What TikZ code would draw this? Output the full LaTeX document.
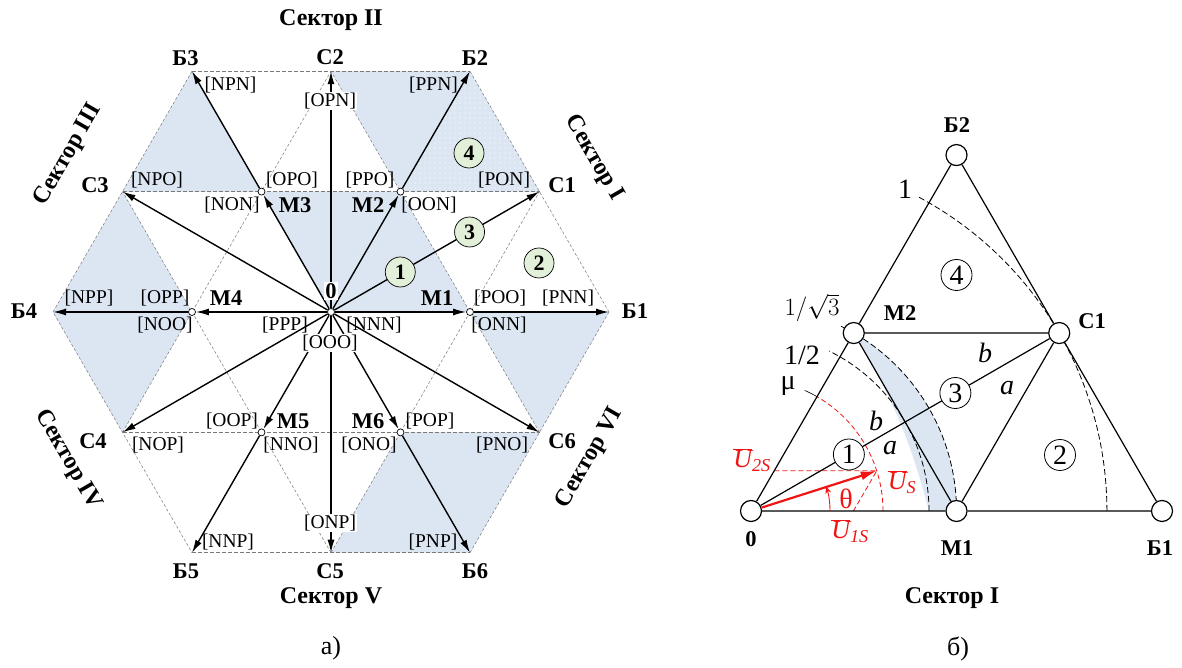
\documentclass[tikz,border=0pt]{standalone}
\usepackage{fontspec}
\setmainfont{Liberation Serif}
\usetikzlibrary{arrows.meta,patterns.meta,calc}
\definecolor{lblue}{RGB}{220,230,242}
\definecolor{cgreen}{RGB}{226,239,217}
\definecolor{gridc}{RGB}{120,120,120}
\definecolor{ured}{RGB}{240,20,20}
\begin{document}
\begin{tikzpicture}[x=1pt,y=1pt,
 arr/.style={line width=1.4pt,-{Latex[length=13pt,width=7pt]}},
 gthin/.style={draw=gridc,line width=0.5pt,dash pattern=on 3pt off 2pt},
 gmed/.style={draw=gridc,line width=0.9pt,dash pattern=on 4pt off 2pt},
 mdot/.style={circle,draw,fill=white,inner sep=0pt,minimum size=7pt,line width=0.7pt},
 lbl/.style={font=\fontsize{19.5}{19.5}\selectfont,inner sep=1pt},
 wlbl/.style={lbl,fill=white},
 blbl/.style={font=\fontsize{22.5}{22.5}\selectfont\bfseries,inner sep=1pt},
 sect/.style={font=\fontsize{24}{24}\selectfont\bfseries,inner sep=0pt},
 num/.style={circle,draw,fill=cgreen,line width=0.7pt,minimum size=30pt,inner sep=0pt,font=\fontsize{22}{22}\selectfont\bfseries},
 rnum/.style={circle,draw,fill=white,line width=0.8pt,minimum size=31pt,inner sep=0pt,font=\fontsize{28}{28}\selectfont},
 vdot/.style={circle,draw,fill=white,line width=1.2pt,minimum size=21pt,inner sep=0pt},
 rline/.style={line width=1.2pt},
 bdash/.style={line width=0.8pt,dash pattern=on 6pt off 3pt},
 rdash/.style={ured,line width=0.8pt,dash pattern=on 5pt off 3pt},
 big/.style={font=\fontsize{28}{28}\selectfont,inner sep=0pt},
 rlbl/.style={ured,font=\fontsize{26}{26}\selectfont,inner sep=0pt}
]
\useasboundingbox (0,0) rectangle (1182,668);
\fill[white] (0,0) rectangle (1182,668);

% ---------------- left figure ----------------
\coordinate (O) at (331,356);
\foreach \k/\a in {1/0,2/60,3/120,4/180,5/240,6/300}{
 \coordinate (B\k) at ($(O)+(\a:278pt)$);
 \coordinate (C\k) at ($(O)+(\a+30:240.75pt)$);
 \coordinate (Q\k) at ($(O)+(\a:139pt)$);
}
% shading
\fill[lblue] (C2) -- (B2) -- (C1) -- (Q2) -- cycle;
\fill[pattern={Dots[distance=5pt,radius=0.6pt]},pattern color=white] (Q2) -- (B2) -- (C1) -- cycle;
\fill[lblue] (O) -- (Q1) -- (Q2) -- (Q3) -- cycle;
\fill[lblue] (B3) -- (C3) -- (Q3) -- cycle;
\fill[lblue] (C3) -- (B4) -- (C4) -- (Q4) -- cycle;
\fill[lblue] (Q1) -- (B1) -- (C6) -- cycle;
\fill[lblue] (Q6) -- (C6) -- (B6) -- (C5) -- cycle;
% grid
\draw[gmed] (B3) -- (B2) (C3) -- (C1) (C4) -- (C6) (B5) -- (B6);
\draw[gthin] (B1) -- (B2) (B3) -- (B4) -- (B5) (B6) -- (B1)
  (C4) -- (C2) (C5) -- (C1) (C6) -- (C2) (C5) -- (C3);
% nodes
\node[mdot] (On) at (O) {};
\foreach \k in {1,...,6}{ \node[mdot] (M\k) at (Q\k) {}; }
% arrows
\foreach \k in {1,...,6}{
 \draw[arr] (On) -- (M\k);
 \draw[arr] (M\k) -- (B\k);
 \draw[arr] (On) -- (C\k);
}
\node[num] (n1) at ($(O)+(30:80pt)$) {1};
\node[num] (n3) at ($(O)+(30:160pt)$) {3};
\node[num] (n4) at (469,515) {4};
\node[num] (n2) at (539,405) {2};
% labels
\node[sect] (s2) at (331,648) {Сектор II};
\node[sect,rotate=60] (s3) at (68,513) {Сектор III};
\node[sect,rotate=-60] (s1) at (594,510) {Сектор I};
\node[sect,rotate=-60] (s4) at (68,208) {Сектор IV};
\node[sect,rotate=60] (s6) at (590,210) {Сектор VI};
\node[sect] (s5) at (331,70) {Сектор V};
\node[font=\fontsize{26}{26}\selectfont] (capa) at (331,20) {а)};

\node[blbl] (lB3) at (185.5,610) {Б3};
\node[blbl] (lC2) at (330,611) {С2};
\node[blbl] (lB2) at (475,610) {Б2};
\node[blbl] (lC3) at (95,483) {С3};
\node[blbl] (lC1) at (562,483) {С1};
\node[blbl] (lM3) at (295,463) {М3};
\node[blbl] (lM2) at (368,463) {М2};
\node[blbl] (lB4) at (24,357) {Б4};
\node[blbl] (lM4) at (226,370) {М4};
\node[blbl,fill=white] (l0) at (331,377) {0};
\node[blbl] (lM1) at (437,370) {М1};
\node[blbl] (lB1) at (635,357) {Б1};
\node[blbl] (lC4) at (93,227) {С4};
\node[blbl] (lM5) at (293,247) {М5};
\node[blbl] (lM6) at (368,247) {М6};
\node[blbl] (lC6) at (562,227) {С6};
\node[blbl] (lB5) at (186,97) {Б5};
\node[blbl] (lC5) at (330,97) {С5};
\node[blbl] (lB6) at (475,97) {Б6};

\node[lbl] (tNPN) at (230.5,583) {[NPN]};
\node[wlbl] (tOPN) at (330,567) {[OPN]};
\node[lbl] (tPPN) at (433.5,583) {[PPN]};
\node[lbl] (tNPO) at (157,488) {[NPO]};
\node[lbl] (tOPO) at (292,488) {[OPO]};
\node[lbl] (tPPO) at (370,488) {[PPO]};
\node[lbl] (tPON) at (504,488) {[PON]};
\node[lbl] (tNON) at (232,463) {[NON]};
\node[lbl] (tOON) at (429,463) {[OON]};
\node[lbl] (tNPP) at (89,370) {[NPP]};
\node[lbl] (tOPP) at (165,370) {[OPP]};
\node[lbl] (tPOO) at (500,370) {[POO]};
\node[lbl] (tPNN) at (568,370) {[PNN]};
\node[lbl] (tNOO) at (165,343) {[NOO]};
\node[lbl] (tPPP) at (285,343) {[PPP]};
\node[lbl] (tNNN) at (374,343) {[NNN]};
\node[lbl] (tONN) at (499,343) {[ONN]};
\node[wlbl] (tOOO) at (330,325) {[OOO]};
\node[lbl] (tNOP) at (158,223) {[NOP]};
\node[lbl] (tOOP) at (232,247) {[OOP]};
\node[lbl] (tPOP) at (430,247) {[POP]};
\node[lbl] (tNNO) at (291,223) {[NNO]};
\node[lbl] (tONO) at (369,223) {[ONO]};
\node[lbl] (tPNO) at (502,223) {[PNO]};
\node[lbl] (tNNP) at (228,126) {[NNP]};
\node[wlbl] (tONP) at (330,145) {[ONP]};
\node[lbl] (tPNP) at (433,126) {[PNP]};

% ---------------- right figure ----------------
\coordinate (Z) at (751,157);
\coordinate (RB1) at ($(Z)+(411pt,0)$);
\coordinate (RB2) at ($(Z)+(60:411pt)$);
\coordinate (RM1) at ($(Z)+(205.5pt,0)$);
\coordinate (RM2) at ($(Z)+(60:205.5pt)$);
\coordinate (RC1) at ($(Z)+(30:355.9pt)$);
\coordinate (Ph) at ($(Z)+(178pt,0)$);
\coordinate (Pone) at ($(Z)+(355.9pt,0)$);
\coordinate (Pmu) at ($(Z)+(132pt,0)$);
\coordinate (Pth) at ($(Z)+(79pt,0)$);
\coordinate (T) at ($(Z)+(17.7:132pt)$);
\coordinate (Tx) at ($(Z)+(23.3pt,40.3pt)$);
\coordinate (Ty) at ($(Z)+(102.4pt,0)$);
\coordinate (Pmu60) at ($(Z)+(60:132pt)$);

\fill[lblue] (RM2) to[bend left=8] (Ph) -- (RM1) arc[start angle=0,end angle=60,radius=205.5pt] -- cycle;
\draw[bdash] (Pone) arc[start angle=0,end angle=62,radius=355.9pt];
\draw[bdash] (RM1) arc[start angle=0,end angle=64,radius=205.5pt];
\draw[bdash] (Ph) arc[start angle=0,end angle=64,radius=178pt];
\draw[rdash] (Pmu) arc[start angle=0,end angle=60,radius=132pt];
\draw[line width=0.6pt] (Pmu60) arc[start angle=60,end angle=66,radius=132pt];
\draw[rdash] (Tx) -- (T) -- (Ty);

\node[vdot] (V0) at (Z) {};
\node[vdot] (VB1) at (RB1) {};
\node[vdot] (VB2) at (RB2) {};
\node[vdot] (VM1) at (RM1) {};
\node[vdot] (VM2) at (RM2) {};
\node[vdot] (VC1) at (RC1) {};
\draw[rline] (V0) -- (VM2) (VM2) -- (VB2) (VB2) -- (VC1) (VC1) -- (VB1)
  (VB1) -- (VM1) (VM1) -- (V0) (VM2) -- (VC1) (VM2) -- (VM1) (VM1) -- (VC1) (V0) -- (VC1);
\node[rnum] (r1) at ($(Z)+(30:113pt)$) {1};
\node[rnum] (r3) at ($(Z)+(30:236pt)$) {3};
\node[rnum] (r4) at (956.5,393) {4};
\node[rnum] (r2) at (1060,213) {2};

\draw[ured,line width=2.2pt,-{Latex[length=16pt,width=9pt]}] (V0) -- (T);
\draw[ured,line width=0.9pt,-{Stealth[length=7pt,width=6pt]}] (Pth) arc[start angle=0,end angle=18,radius=79pt];

\node[blbl] (rlB2) at (957,543) {Б2};
\node[blbl] (rlM2) at (900,355) {М2};
\node[blbl] (rlC1) at (1092,347) {С1};
\node[blbl] (rl0) at (751,129) {0};
\node[blbl] (rlM1) at (957,120) {М1};
\node[blbl] (rlB1) at (1160,120) {Б1};
\node[sect] (rs1) at (952,70) {Сектор I};
\node[font=\fontsize{26}{26}\selectfont] (capb) at (958,19) {б)};

\node[big] (one) at (905,479) {1};
\node[big] (isq) at (812,360) {$1/\sqrt{3}$};
\node[big] (half) at (802,313) {1/2};
\node[big] (mu) at (788,282) {μ};
\node[big] (b1) at (985,315) {\textit{b}};
\node[big] (a1) at (1007,280) {\textit{a}};
\node[big] (b2) at (876,247) {\textit{b}};
\node[big] (a2) at (890,220) {\textit{a}};
\node[rlbl] (u2) at (752,208) {$\overline{\mathit{U}}_{\mathit{2S}}$};
\node[rlbl] (us) at (902,186) {$\overline{\mathit{U}}_{\mathit{S}}$};
\node[rlbl] (u1) at (850,137) {$\overline{\mathit{U}}_{\mathit{1S}}$};
\node[ured,font=\fontsize{28}{28}\selectfont,inner sep=0pt] (th) at (846,169) {θ};
\end{tikzpicture}
\end{document}
